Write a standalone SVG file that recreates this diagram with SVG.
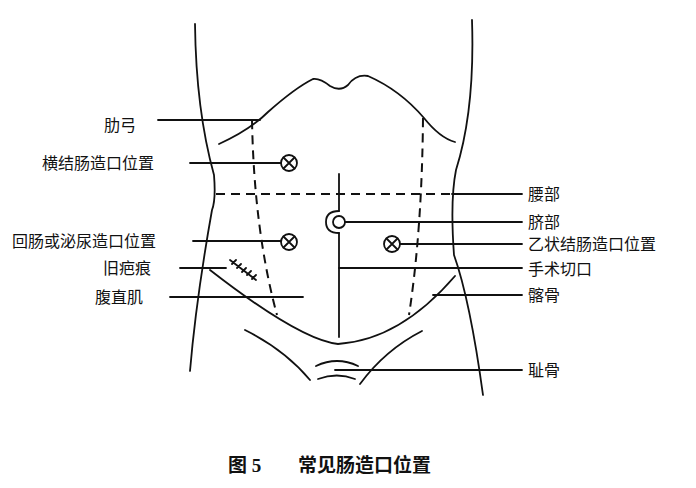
<svg xmlns="http://www.w3.org/2000/svg" width="696" height="488" viewBox="0 0 696 488">
<style>
.l{fill:none;stroke:#111;stroke-width:1.8;stroke-linecap:round}
.d{fill:none;stroke:#111;stroke-width:2;stroke-dasharray:9,6}
.t{font-family:"Noto Sans CJK SC",sans-serif;font-size:16px;fill:#111}
.c{font-family:"Liberation Serif","Noto Sans CJK SC",serif;font-size:19px;font-weight:bold;fill:#111}
</style>
<rect width="696" height="488" fill="#fff"/>
<g id="body">
<path class="l" d="M195,24 Q196,110 214,175 Q216,200 212,210 Q196,300 190,371"/>
<path class="l" d="M472,20 Q475,110 456,170 Q450,200 454,255 Q470,300 483,395"/>
<path class="l" d="M219,144 Q250,130 268,112 Q295,88 313,79 Q320,78 330,86 Q340,92 348,85 Q356,74 368,76 Q400,90 424,118 Q440,138 455,142"/>
<path class="d" d="M252,120 Q254,230 277,315"/>
<path class="d" d="M423,118 Q422,230 409,315"/>
<path class="d" d="M216,194 H452"/>
<path class="l" d="M210,270 Q300,340 338,344 Q400,340 455,276"/>
<path class="l" d="M245,330 Q285,350 310,380"/>
<path class="l" d="M422,331 Q385,350 360,384"/>
<path class="l" d="M316,366 Q337,356 358,366"/>
<path class="l" d="M318,379 Q337,372 355,379"/>
<path class="l" d="M339,174 V211 M339,233 V337"/>
<path class="l" d="M339,211 Q326,211 326,222 Q326,233 339,233"/>
<circle class="l" cx="339" cy="222" r="6"/>
<path class="l" d="M230,260 L256,280 M232,264 l4,-4 M237,268 l4,-4 M242,272 l4,-4 M247,275 l4,-4 M252,279 l4,-4"/>
</g>
<g id="stomas">
<g id="s1"><circle class="l" cx="289" cy="163" r="8"/><path class="l" d="M283.5,157.5l11,11M294.5,157.5l-11,11"/></g>
<g id="s2"><circle class="l" cx="289" cy="242" r="8"/><path class="l" d="M283.5,236.5l11,11M294.5,236.5l-11,11"/></g>
<g id="s3"><circle class="l" cx="392" cy="244" r="8"/><path class="l" d="M386.5,238.5l11,11M397.5,238.5l-11,11"/></g>
</g>
<g id="connectors">
<path class="l" d="M158,120 H260"/>
<path class="l" d="M190,163 H281"/>
<path class="l" d="M452,194 H522"/>
<path class="l" d="M345,222 H522"/>
<path class="l" d="M193,241 H281"/>
<path class="l" d="M400,244 H522"/>
<path class="l" d="M180,268 H226"/>
<path class="l" d="M339,268 H522"/>
<path class="l" d="M170,297 H303"/>
<path class="l" d="M433,295 H522"/>
<path class="l" d="M335,370 H522"/>
</g>
<g id="labels">
<text class="t" x="104" y="131">肋弓</text>
<text class="t" x="42" y="169">横结肠造口位置</text>
<text class="t" x="12" y="247">回肠或泌尿造口位置</text>
<text class="t" x="103" y="274">旧疤痕</text>
<text class="t" x="95" y="303">腹直肌</text>
<text class="t" x="528" y="200">腰部</text>
<text class="t" x="528" y="228">脐部</text>
<text class="t" x="528" y="250">乙状结肠造口位置</text>
<text class="t" x="528" y="275">手术切口</text>
<text class="t" x="528" y="301">髂骨</text>
<text class="t" x="528" y="376">耻骨</text>
<text class="c" x="228" y="472">图 5</text>
<text class="c" x="298" y="472">常见肠造口位置</text>
</g>
</svg>
